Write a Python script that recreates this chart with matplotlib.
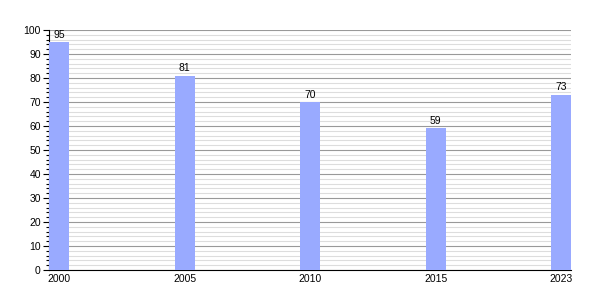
import matplotlib
matplotlib.use("Agg")
import matplotlib.pyplot as plt
from matplotlib.ticker import MultipleLocator

# Data
years = ["2000", "2005", "2010", "2015", "2023"]
values = [95, 81, 70, 59, 73]

BAR_COLOR = "#99aaff"
BAR_W = 0.16

plt.rcParams["font.family"] = ["Liberation Sans", "DejaVu Sans"]

fig = plt.figure(figsize=(6, 3), dpi=100)
ax = fig.add_axes([0.082, 0.1, 0.87, 0.8])

x = list(range(len(years)))
bars = ax.bar(x, values, width=BAR_W, color=BAR_COLOR, zorder=3)

for xi, v in zip(x, values):
    ax.text(xi, v + 1, str(v), ha="center", va="bottom", fontsize=7.5, zorder=4)

ax.set_xlim(-BAR_W / 2, len(years) - 1 + BAR_W / 2)
ax.set_ylim(0, 100)
ax.set_xticks(x)
ax.set_xticklabels(years, fontsize=7.5)
ax.tick_params(axis="x", length=0, pad=3)

ax.yaxis.set_major_locator(MultipleLocator(10))
ax.yaxis.set_minor_locator(MultipleLocator(2))
ax.tick_params(axis="y", which="major", length=4, width=0.8, labelsize=7.5, pad=2)
ax.tick_params(axis="y", which="minor", length=2, width=0.8)

ax.grid(axis="y", which="major", color="#999999", linewidth=0.8, zorder=0)
ax.grid(axis="y", which="minor", color="#dddddd", linewidth=0.8, zorder=0)

for side in ["top", "right"]:
    ax.spines[side].set_visible(False)
ax.spines["left"].set_linewidth(0.8)
ax.spines["bottom"].set_linewidth(0.8)

fig.savefig("out.png", dpi=100)
